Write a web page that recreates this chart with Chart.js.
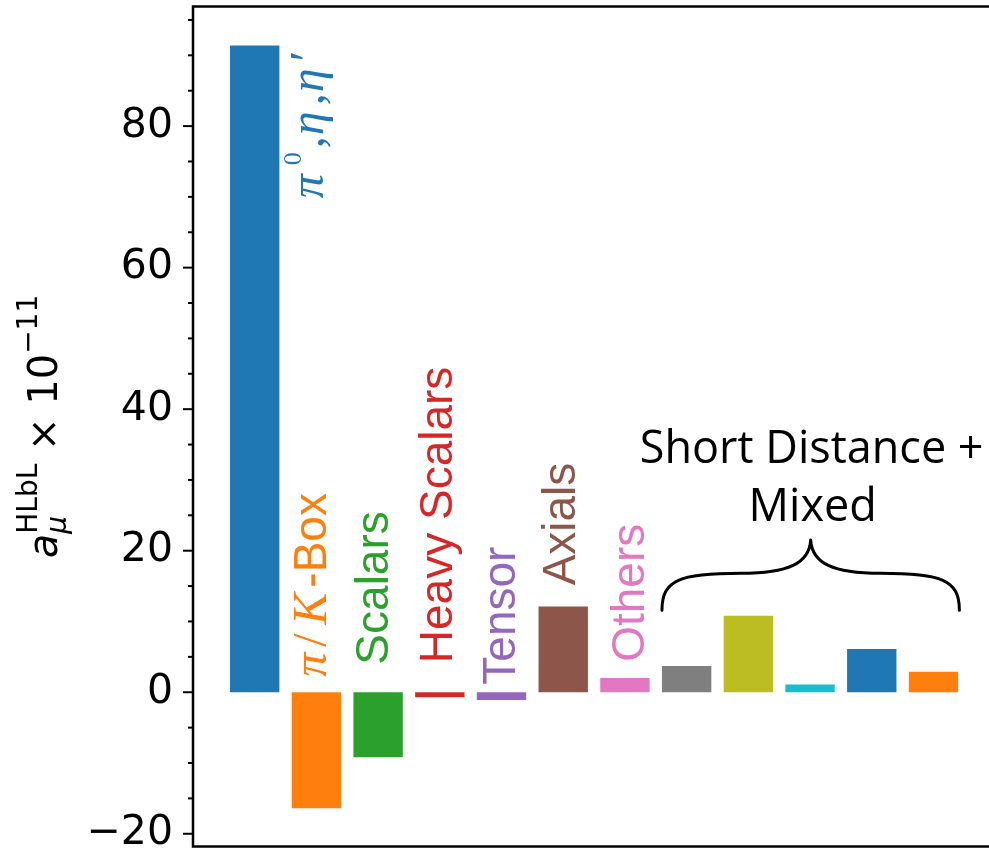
<!DOCTYPE html>
<html>
<head>
<meta charset="utf-8">
<script src="https://cdn.jsdelivr.net/npm/chart.js@4.4.1/dist/chart.umd.min.js"></script>
<style>
  html, body { margin: 0; padding: 0; background: #ffffff; overflow: hidden; }
  canvas { display: block; }
</style>
</head>
<body>
<canvas id="chart" width="989" height="853"></canvas>
<script>
// Hadronic light-by-light contributions, in units of 1e-11
const categories = ['π0,η,η′', 'π/K-Box', 'Scalars', 'Heavy Scalars', 'Tensor', 'Axials', 'Others',
                    'SD+Mixed 1', 'SD+Mixed 2', 'SD+Mixed 3', 'SD+Mixed 4', 'SD+Mixed 5'];
const values = [91.4, -16.4, -9.2, -0.7, -1.1, 12.1, 2.0, 3.7, 10.8, 1.1, 6.1, 2.9];
const barColors = ['#1f77b4', '#ff7f0e', '#2ca02c', '#d62728', '#9467bd', '#8c564b', '#e377c2',
                   '#7f7f7f', '#bcbd22', '#17becf', '#1f77b4', '#ff7f0e'];
const majorTicks = [-20, 0, 20, 40, 60, 80];
const groupTitle = ['Short Distance +', 'Mixed'];
const groupBars = [7, 11];

// Where each bar name sits: x of the text baseline (category units), y where the text starts (data units)
const SANS = '"Liberation Sans", Arial, sans-serif';
const MATH = '"Liberation Serif", "Times New Roman", serif';
const labelPlacement = [
  { x: 1.106, y: 69.8, glyphs: [
      { t: 'π', f: 'italic 48px ' + MATH, o: 0 },
      { t: '0', f: '26px ' + MATH, o: 33, rise: 22 },
      { t: ',', f: '48px ' + MATH, o: 50 },
      { t: 'η', f: 'italic 48px ' + MATH, o: 63 },
      { t: ',', f: '48px ' + MATH, o: 93 },
      { t: 'η', f: 'italic 48px ' + MATH, o: 106 },
      { t: '′', f: '48px ' + MATH, o: 137 } ] },
  { x: 1.155, y: 2.2, glyphs: [
      { t: 'π', f: 'italic 48px ' + MATH, o: 0 },
      { t: '/', f: '48px ' + MATH, o: 30 },
      { t: 'K', f: 'italic 48px ' + MATH, o: 52 },
      { t: '-Box', f: '46px ' + SANS, o: 89 } ] },
  { x: 2.158, y: 3.9 },
  { x: 3.196, y: 4.1 },
  { x: 4.217, y: 1.07 },
  { x: 5.19, y: 15.1 },
  { x: 6.31, y: 4.3 }
];

function tickText(v) {
  return v < 0 ? '\u2212' + Math.abs(v) : String(v);
}

const decorations = {
  id: 'decorations',
  afterDraw(chart) {
    const { ctx, chartArea: a, scales: { x: xs, y: ys } } = chart;
    ctx.save();

    // axes frame (left, top, bottom)
    ctx.strokeStyle = '#000';
    ctx.lineWidth = 2.5;
    ctx.beginPath();
    ctx.moveTo(a.right + 2, a.top);
    ctx.lineTo(a.left, a.top);
    ctx.lineTo(a.left, a.bottom);
    ctx.lineTo(a.right + 2, a.bottom);
    ctx.stroke();

    // y ticks, major and minor
    ctx.lineWidth = 2;
    ys.ticks.forEach(t => {
      const py = ys.getPixelForValue(t.value);
      const len = majorTicks.includes(t.value) ? 10 : 5;
      ctx.beginPath();
      ctx.moveTo(a.left - len, py);
      ctx.lineTo(a.left, py);
      ctx.stroke();
    });

    // bar names, rotated
    labelPlacement.forEach((p, i) => {
      const px = xs.getPixelForValue(p.x);
      const py = ys.getPixelForValue(p.y);
      ctx.save();
      ctx.translate(px, py);
      ctx.rotate(-Math.PI / 2);
      ctx.fillStyle = barColors[i];
      ctx.textAlign = 'left';
      ctx.textBaseline = 'alphabetic';
      const glyphs = p.glyphs || [{ t: categories[i], f: '46px ' + SANS, o: 0 }];
      glyphs.forEach(g => {
        ctx.font = g.f;
        ctx.fillText(g.t, g.o, -(g.rise || 0));
      });
      ctx.restore();
    });

    // y-axis title: a_mu^HLbL x 10^-11
    const runs = [
      { t: 'a', f: 'italic 40px "DejaVu Sans"' },
      { t: 'HLbL', f: '28px "DejaVu Sans"', rise: 20 },
      { t: 'μ', f: 'italic 28px "DejaVu Sans"', rise: -9, overlay: true },
      { t: ' × ', f: '40px "DejaVu Sans"' },
      { t: '10', f: '40px "DejaVu Sans"' },
      { t: '−11', f: '28px "DejaVu Sans"', rise: 20 }
    ];
    let cursor = 0, lastStart = 0;
    runs.forEach(r => {
      ctx.font = r.f;
      r.w = ctx.measureText(r.t).width;
      r.start = r.overlay ? lastStart : cursor;
      cursor = Math.max(cursor, r.start + r.w);
      lastStart = r.start;
    });
    ctx.save();
    ctx.translate(57, (a.top + a.bottom) / 2);
    ctx.rotate(-Math.PI / 2);
    ctx.fillStyle = '#000';
    ctx.textAlign = 'left';
    ctx.textBaseline = 'alphabetic';
    runs.forEach(r => {
      ctx.font = r.f;
      ctx.fillText(r.t, r.start - cursor / 2, -(r.rise || 0));
    });
    ctx.restore();

    // curly brace over the last group of bars
    const xL = xs.getPixelForValue(groupBars[0] - 0.4);
    const xR = xs.getPixelForValue(groupBars[1] + 0.42);
    const xc = (xL + xR) / 2, half = (xR - xL) / 2;
    const yEnd = ys.getPixelForValue(11.6);
    const yMid = ys.getPixelForValue(16.8);
    const yTip = ys.getPixelForValue(21.5);
    const yA = yMid + (yEnd - yMid) * 0.86;
    const yB = yMid - (yMid - yTip) * 0.3;
    ctx.lineWidth = 3;
    ctx.lineCap = 'round';
    ctx.lineJoin = 'round';
    ctx.beginPath();
    ctx.moveTo(xL, yEnd);
    ctx.bezierCurveTo(xL, yMid + (yA - yMid) * 0.2, xL + 0.12 * half, yMid, xL + 0.53 * half, yMid);
    ctx.bezierCurveTo(xc - 0.15 * half, yMid, xc - 0.01 * half, yB, xc, yTip);
    ctx.bezierCurveTo(xc + 0.01 * half, yB, xc + 0.15 * half, yMid, xR - 0.53 * half, yMid);
    ctx.bezierCurveTo(xR - 0.12 * half, yMid, xR, yMid + (yA - yMid) * 0.2, xR, yEnd);
    ctx.stroke();

    // group title
    ctx.fillStyle = '#000';
    ctx.textAlign = 'center';
    ctx.textBaseline = 'alphabetic';
    ctx.font = '45px "Open Sans", sans-serif';
    ctx.fillText(groupTitle[0], xc + 1, ys.getPixelForValue(32.4));
    ctx.fillText(groupTitle[1], xc + 2, ys.getPixelForValue(24.2));

    ctx.restore();
  }
};

new Chart(document.getElementById('chart'), {
  type: 'bar',
  data: {
    labels: categories,
    datasets: [{
      data: values.map((v, i) => ({ x: i, y: v })),
      backgroundColor: barColors,
      borderWidth: 0,
      barPercentage: 0.8,
      categoryPercentage: 1.0
    }]
  },
  options: {
    responsive: false,
    animation: false,
    layout: { padding: { top: 6.5, bottom: 6.5, left: 0, right: 0 } },
    plugins: { legend: { display: false }, tooltip: { enabled: false } },
    scales: {
      x: { type: 'linear', min: -1, max: 11.9, offset: false, display: false },
      y: {
        min: -21.8,
        max: 96.9,
        grid: { display: false },
        border: { display: false },
        ticks: {
          stepSize: 5,
          includeBounds: false,
          autoSkip: false,
          padding: 12,
          color: '#000',
          font: { family: 'DejaVu Sans', size: 41 },
          callback: v => majorTicks.includes(v) ? tickText(v) : ''
        },
        afterFit(scale) {
          scale.width = 193;
          scale.paddingTop = 0;
          scale.paddingBottom = 0;
        }
      }
    }
  },
  plugins: [decorations]
});
</script>
</body>
</html>
